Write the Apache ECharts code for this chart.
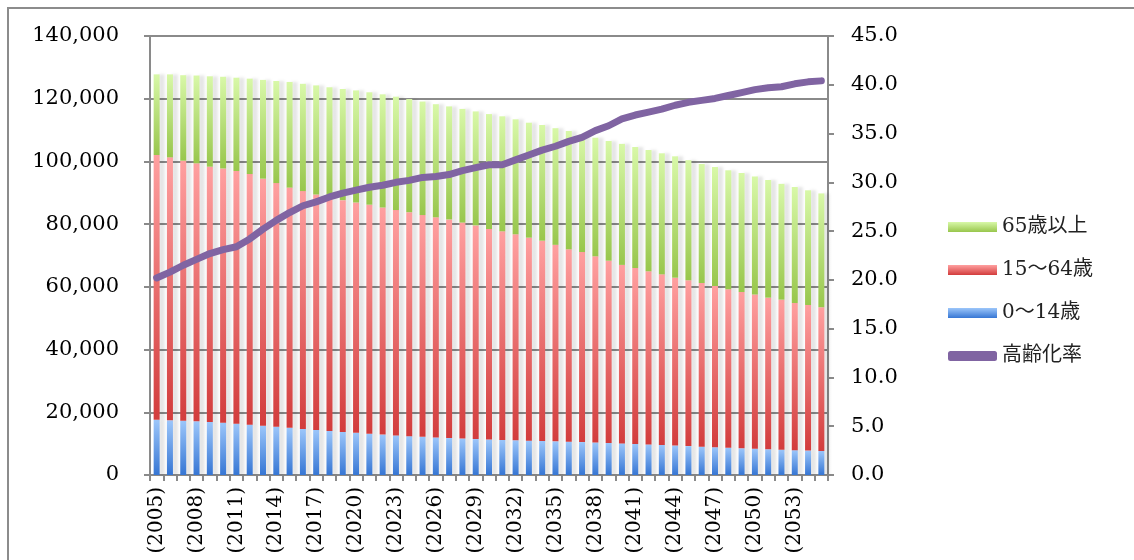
<!DOCTYPE html>
<html>
<head>
<meta charset="utf-8">
<script src="https://cdn.jsdelivr.net/npm/echarts@6/dist/echarts.min.js"></script>
<style>
html,body{margin:0;padding:0;background:#fff;}
#chart{width:1134px;height:560px;}
</style>
</head>
<body>
<div id="chart"></div>
<script>
var years = ['2005','2006','2007','2008','2009','2010','2011','2012','2013','2014','2015','2016','2017','2018','2019','2020','2021','2022','2023','2024','2025','2026','2027','2028','2029','2030','2031','2032','2033','2034','2035','2036','2037','2038','2039','2040','2041','2042','2043','2044','2045','2046','2047','2048','2049','2050','2051','2052','2053','2054','2055'];

var seriesNames = ['65歳以上', '15～64歳', '0～14歳', '高齢化率'];

var pop0to14 = [17585,17435,17293,17132,16935,16690,16380,16060,15730,15390,15040,14700,14380,14060,13740,13440,13150,12880,12620,12380,12160,11960,11780,11610,11460,11320,11190,11070,10950,10840,10730,10620,10500,10370,10230,10080,9920,9750,9570,9390,9210,9030,8850,8680,8510,8350,8200,8060,7920,7790,7660];

var pop15to64 = [84465,83865,82937,82268,81385,81060,80570,79930,78770,77710,76610,75850,75070,74370,73910,73460,73050,72420,71880,71420,70740,70220,69720,68890,68140,67130,66520,65690,64730,63880,62670,61350,60610,59370,58110,56920,56090,55210,54420,53530,52890,52200,51420,50540,49850,49200,48350,47850,46940,46430,45840];

var pop65plus = [25718,26462,27270,28000,28830,29250,29750,30410,31500,32550,33700,34200,34800,35220,35450,35750,35850,36100,36150,36100,36200,36070,36050,36250,36350,36650,36680,36670,36670,36900,37200,37730,37530,37820,38170,38600,38590,38680,38600,38710,38300,37950,37950,37950,37950,37650,37530,36940,36980,36570,36300];

var agingRate = [20.2,20.8,21.5,22.1,22.7,23.1,23.4,24.2,25.2,26.1,26.9,27.6,28.0,28.5,28.9,29.2,29.5,29.7,30.0,30.2,30.5,30.6,30.8,31.2,31.5,31.8,31.8,32.3,32.8,33.3,33.7,34.2,34.6,35.3,35.8,36.5,36.9,37.2,37.5,37.9,38.2,38.4,38.6,38.9,39.2,39.5,39.7,39.8,40.1,40.3,40.4];

var leftTicks = {min: 0, max: 140000, step: 20000};
var rightTicks = {min: 0, max: 45, step: 5};

function grad(top, bottom) {
  return new echarts.graphic.LinearGradient(0, 0, 0, 1, [
    {offset: 0, color: top}, {offset: 1, color: bottom}
  ]);
}

var FONT = '"DejaVu Serif", "Liberation Serif", serif';
var FONT_CJK = '"DejaVu Serif", "Noto Sans CJK JP", serif';
var gridGray = '#8a8a8a';
var barShadow = {shadowColor: 'rgba(0,0,0,0.10)', shadowBlur: 3, shadowOffsetX: 5, shadowOffsetY: 0};

var chart = echarts.init(document.getElementById('chart'), null, {renderer: 'canvas'});

var option = {
  backgroundColor: '#ffffff',
  animation: false,
  graphic: [
    {type: 'polyline', shape: {points: [[8, 570], [8, 8], [1140, 8]]}, style: {stroke: '#8c8c8c', lineWidth: 2, fill: null}},
    {type: 'text', left: 10, top: -19, style: {text: '図', fontSize: 20, fill: '#444', font: '20px "Noto Sans CJK JP"'}}
  ],
  grid: {left: 150, right: 306, top: 36, bottom: 85, containLabel: false},
  legend: {
    orient: 'vertical',
    left: 943,
    top: 212,
    itemWidth: 49,
    itemHeight: 10,
    itemGap: 23,
    textStyle: {fontFamily: FONT_CJK, fontSize: 20, color: '#222'},
    data: [
      {name: seriesNames[0], icon: 'rect'},
      {name: seriesNames[1], icon: 'rect'},
      {name: seriesNames[2], icon: 'rect'},
      {name: seriesNames[3], icon: 'roundRect'}
    ]
  },
  xAxis: {
    type: 'category',
    data: years,
    boundaryGap: true,
    axisLine: {lineStyle: {color: gridGray, width: 2}},
    axisTick: {show: true, interval: 0, length: 6, lineStyle: {color: gridGray, width: 2}},
    axisLabel: {
      interval: 2,
      rotate: 90,
      margin: 12,
      fontFamily: FONT,
      fontSize: 20,
      color: '#000',
      formatter: function (v) { return '(' + v + ')'; }
    },
    splitLine: {show: false}
  },
  yAxis: [
    {
      type: 'value',
      min: leftTicks.min,
      max: leftTicks.max,
      interval: leftTicks.step,
      axisLine: {show: true, lineStyle: {color: gridGray, width: 2}},
      axisTick: {show: true, length: 6, lineStyle: {color: gridGray, width: 2}},
      axisLabel: {
        margin: 31,
        fontFamily: FONT,
        fontSize: 21,
        color: '#000',
        formatter: function (v) { return v.toLocaleString('en-US'); }
      },
      splitLine: {show: true, lineStyle: {color: gridGray, width: 2}}
    },
    {
      type: 'value',
      min: rightTicks.min,
      max: rightTicks.max,
      interval: rightTicks.step,
      position: 'right',
      axisLine: {show: true, lineStyle: {color: gridGray, width: 2}},
      axisTick: {show: true, length: 6, lineStyle: {color: gridGray, width: 2}},
      axisLabel: {
        margin: 23,
        fontFamily: FONT,
        fontSize: 21,
        color: '#000',
        formatter: function (v) { return v.toFixed(1); }
      },
      splitLine: {show: false}
    }
  ],
  series: [
    {
      name: seriesNames[2],
      type: 'bar',
      stack: 'pop',
      barWidth: 6,
      data: pop0to14,
      itemStyle: Object.assign({color: grad('#9cc6fa', '#3676d4')}, barShadow)
    },
    {
      name: seriesNames[1],
      type: 'bar',
      stack: 'pop',
      barWidth: 6,
      data: pop15to64,
      itemStyle: Object.assign({color: grad('#ffa0a0', '#d23c3c')}, barShadow)
    },
    {
      name: seriesNames[0],
      type: 'bar',
      stack: 'pop',
      barWidth: 6,
      data: pop65plus,
      itemStyle: Object.assign({color: grad('#d8f8a8', '#98c64c')}, barShadow)
    },
    {
      name: seriesNames[3],
      type: 'line',
      yAxisIndex: 1,
      data: agingRate,
      symbol: 'none',
      smooth: false,
      z: 5,
      itemStyle: {color: '#8064a2'},
      lineStyle: {color: '#8064a2', width: 7, cap: 'round', join: 'round'}
    }
  ]
};

chart.setOption(option);
</script>
</body>
</html>
